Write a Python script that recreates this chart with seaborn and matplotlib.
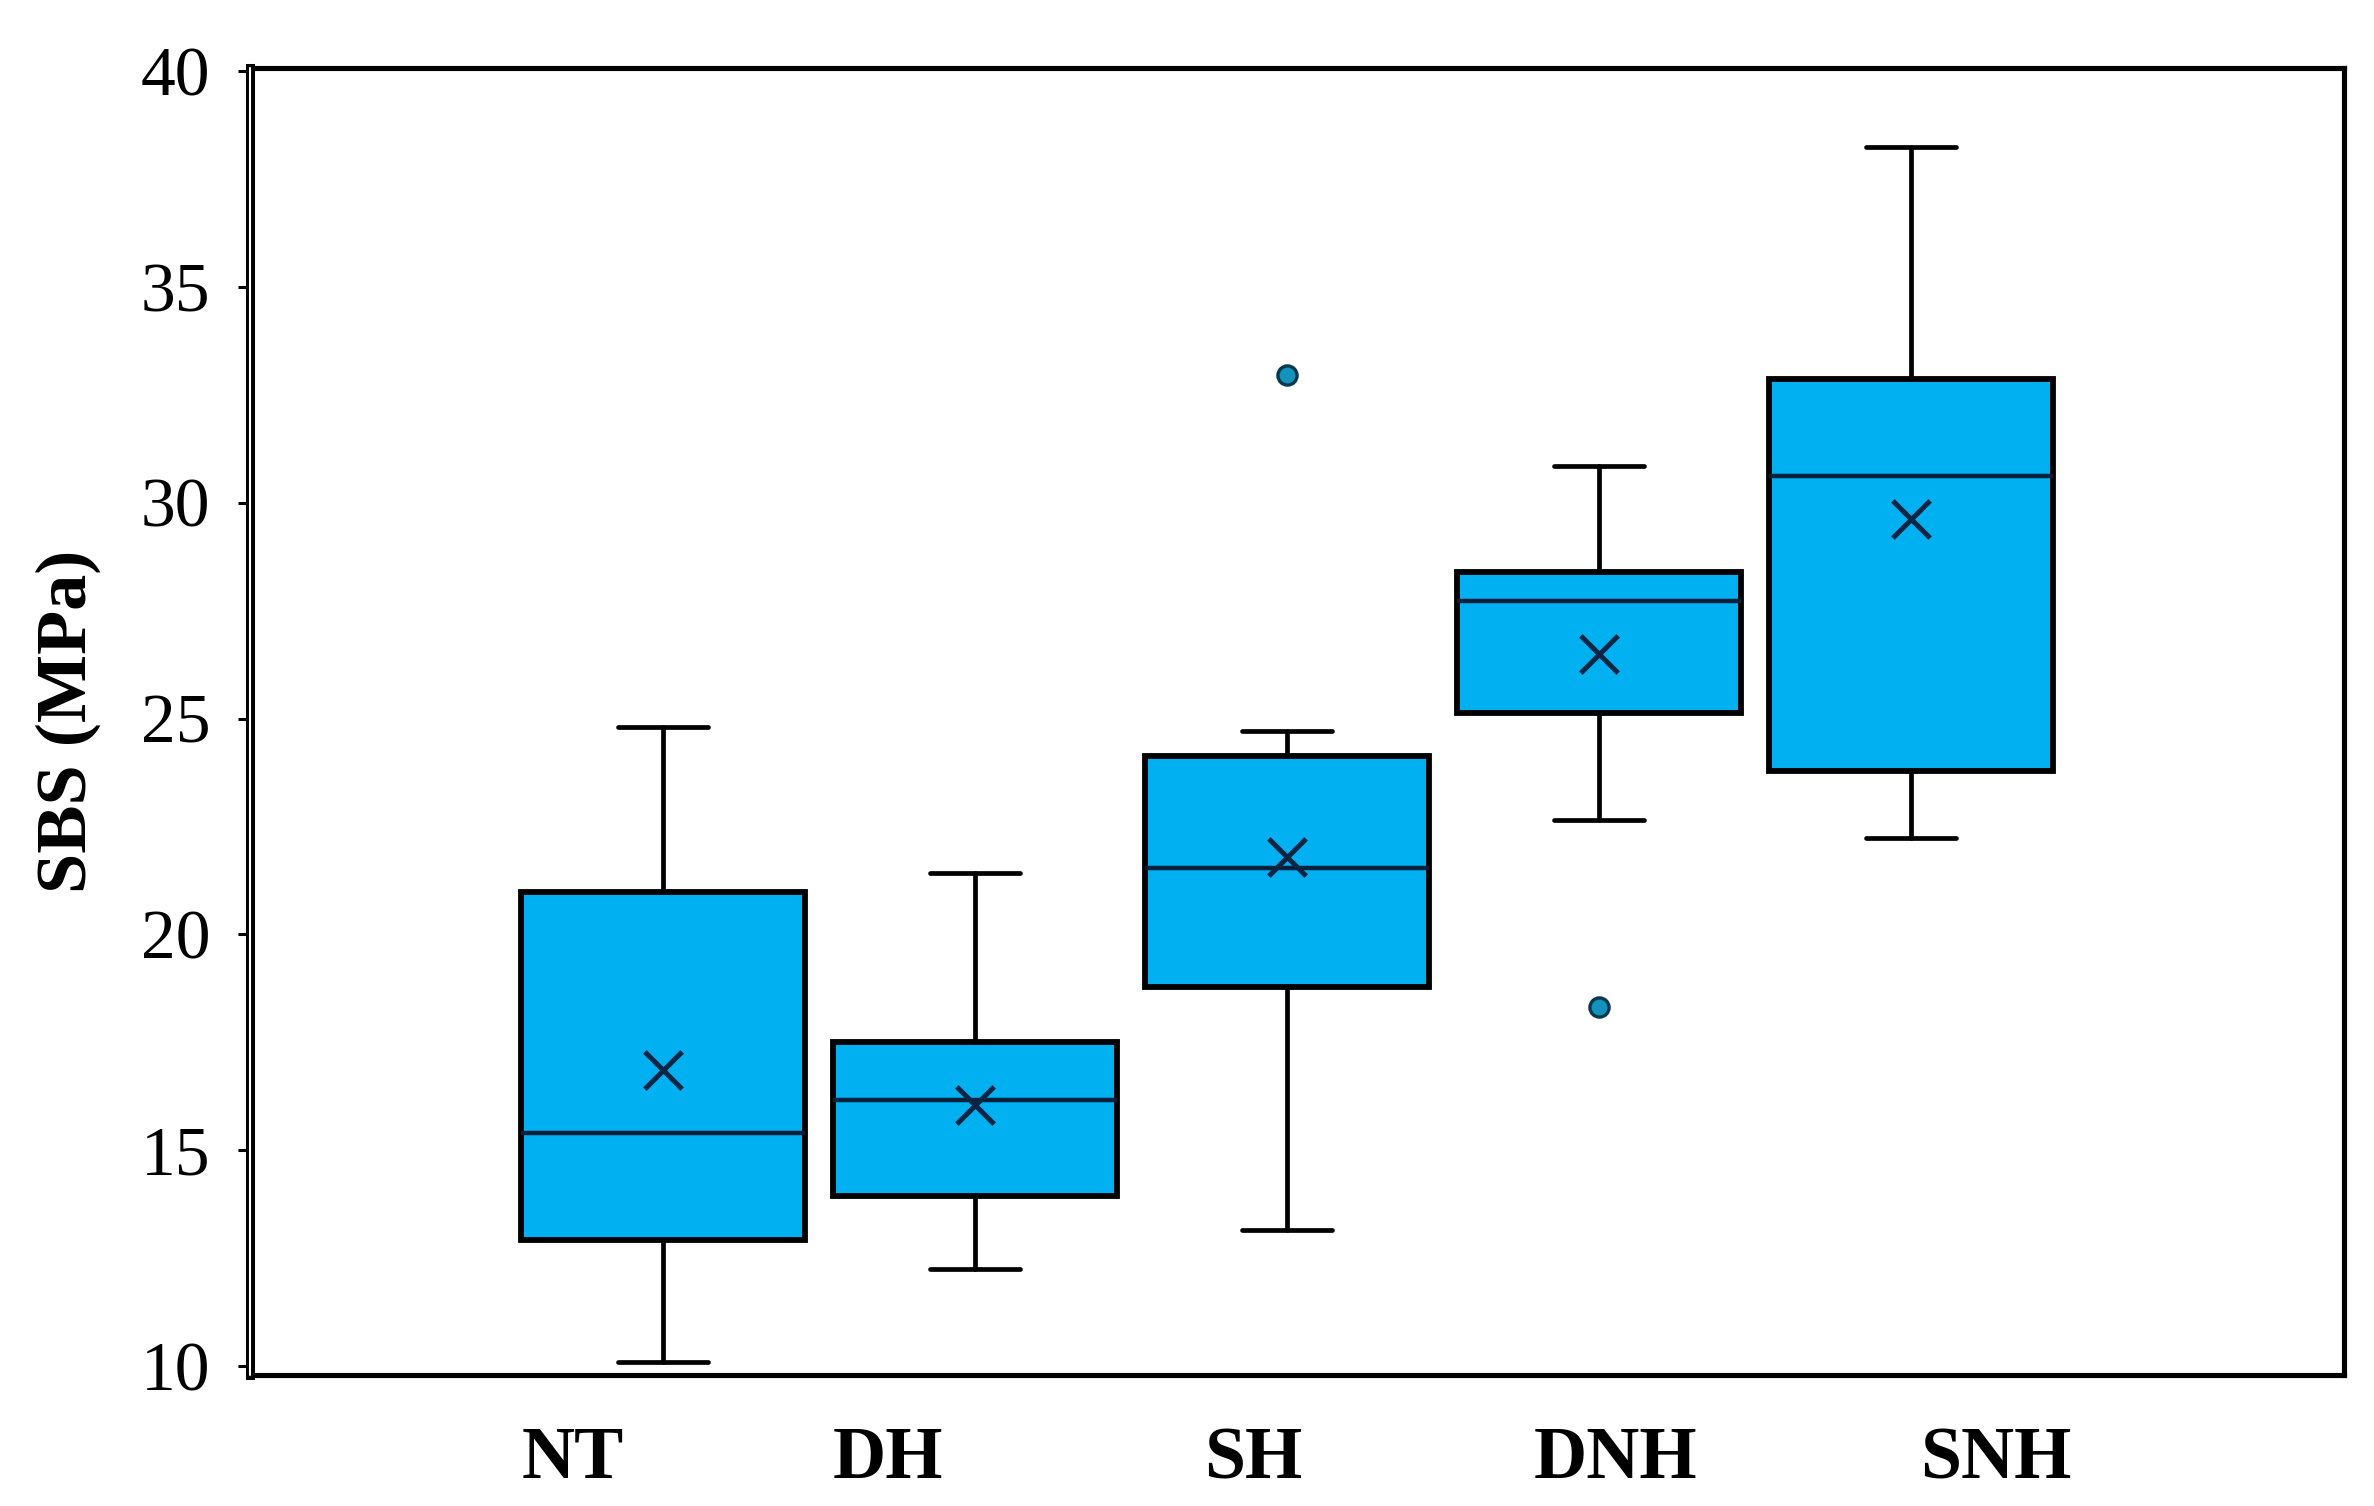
import matplotlib
matplotlib.use("Agg")
import matplotlib.pyplot as plt
import seaborn as sns
import pandas as pd

# ---------------- data ----------------
groups = ["NT", "DH", "SH", "DNH", "SNH"]
whisker_low = [10.10, 12.24, 13.16, 22.65, 22.24]
q1 = [12.91, 13.94, 18.78, 25.13, 23.79]
median = [15.39, 16.16, 21.54, 27.72, 30.62]
q3 = [20.97, 17.51, 24.14, 28.40, 32.87]
whisker_high = [24.80, 21.43, 24.70, 30.86, 38.24]
means = [16.85, 16.05, 21.78, 26.50, 29.62]
outlier_group = ["SH", "DNH"]
outlier_value = [32.97, 18.31]
y_ticks = [10, 15, 20, 25, 30, 35, 40]
y_label = "SBS (MPa)"

# ---------------- style ----------------
sns.set_theme(style="white")
plt.rcParams["font.family"] = ["Liberation Serif", "DejaVu Serif"]

fig = plt.figure(figsize=(23.74, 15.06), dpi=100)
fig.patch.set_facecolor("white")
ax = fig.add_axes([0.1053, 0.0870, 0.8821, 0.8678])
ax.set_facecolor("white")

positions = list(range(len(groups)))
stats = []
for g, lo, a, m, b, hi in zip(groups, whisker_low, q1, median, q3, whisker_high):
    stats.append(dict(label=g, whislo=lo, q1=a, med=m, q3=b, whishi=hi, fliers=[]))

box_color = "#00B0F0"
ax.bxp(stats, positions=positions, widths=0.91, patch_artist=True,
       showfliers=False, capwidths=0.29, manage_ticks=False,
       boxprops=dict(facecolor=box_color, edgecolor="black", linewidth=4.2),
       whiskerprops=dict(color="black", linewidth=3.4),
       capprops=dict(color="black", linewidth=3.4),
       medianprops=dict(color="#0a1f3c", linewidth=3.2))

# means (x markers)
df_mean = pd.DataFrame({"pos": positions, "mean": means})
sns.scatterplot(data=df_mean, x="pos", y="mean", marker="x", s=720,
                color="#0b2545", linewidth=3.6, ax=ax, zorder=5, legend=False)

# outliers
df_out = pd.DataFrame({"pos": [groups.index(g) for g in outlier_group],
                       "val": outlier_value})
sns.scatterplot(data=df_out, x="pos", y="val", marker="o", s=190,
                color="#1592bb", edgecolor="#06384f", linewidth=2.4,
                ax=ax, zorder=5, legend=False)

# ---------------- axes ----------------
ax.set_xlim(-1.324, 5.388)
ax.set_ylim(9.79, 40.07)

ax.set_yticks(y_ticks)
ax.set_yticklabels([str(t) for t in y_ticks])
ax.tick_params(axis="y", labelsize=50, length=8.6, width=2.2, pad=20,
               direction="out", colors="black", left=True)

label_offsets = [-0.29, -0.28, -0.11, 0.054, 0.27]
ax.set_xticks([p + o for p, o in zip(positions, label_offsets)])
ax.set_xticklabels(groups, fontsize=53, fontweight="bold")
ax.tick_params(axis="x", length=0, pad=37, colors="black")

ax.set_xlabel("")
ax.set_ylabel(y_label, fontsize=52, fontweight="bold", color="black")
ax.yaxis.set_label_coords(-0.071, 0.5)

for side in ["top", "right", "bottom"]:
    ax.spines[side].set_visible(True)
    ax.spines[side].set_color("black")
    ax.spines[side].set_linewidth(3.7)
ax.spines["left"].set_visible(True)
ax.spines["left"].set_color("black")
ax.spines["left"].set_linewidth(6.5)
ax.axvline(ax.get_xlim()[0], color="white", linewidth=1.5, zorder=3, clip_on=False)
ax.grid(False)

fig.savefig("out.png", dpi=100, facecolor="white")
